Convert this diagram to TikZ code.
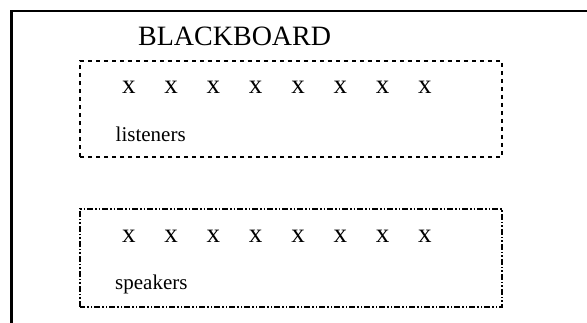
\documentclass[tikz,border=0pt]{standalone}
\usepackage{fontspec}
\setmainfont{Liberation Serif}
\begin{document}
\begin{tikzpicture}[x=1pt,y=1pt,
  frame/.style={line width=2.2pt},
  dashbox/.style={line width=1.8pt, dash pattern=on 4pt off 4pt},
  dotbox/.style={line width=1.8pt, dash pattern=on 6pt off 2pt on 1.5pt off 2pt on 1.5pt off 2pt},
  mark x/.style={font=\fontsize{27}{30}\selectfont, inner sep=0pt},
  lbl/.style={font=\fontsize{21}{24}\selectfont, inner sep=0pt, anchor=base west}]
\useasboundingbox (0,0) rectangle (587,323);
\coordinate (fbl) at (11.5,0);
\coordinate (ftl) at (11.5,312);
\coordinate (ftr) at (587,312);
\draw[frame] (fbl) -- (ftl) -- (ftr);
\node[font=\fontsize{28}{30}\selectfont, inner sep=0pt, anchor=base west] (bb) at (138,277) {BLACKBOARD};
\draw[dashbox] (80,166) rectangle (502,262);
\draw[dotbox] (80,16) rectangle (502,114);
\foreach \i in {0,...,7} {
  \node[mark x] (l\i) at (128.8+42.3*\i,236) {x};
  \node[mark x] (s\i) at (128.8+42.3*\i,87) {x};
}
\node[lbl] (lis) at (115.5,181.5) {listeners};
\node[lbl] (spk) at (115,33.5) {speakers};
\end{tikzpicture}
\end{document}
